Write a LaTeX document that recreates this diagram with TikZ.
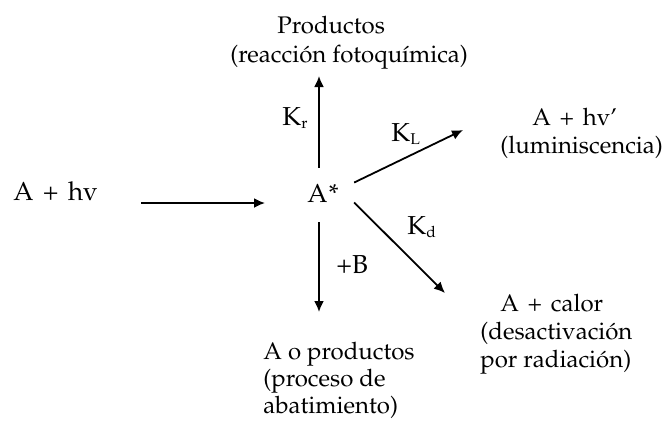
\documentclass[tikz,border=0pt]{standalone}
\usepackage[T1]{fontenc}
\usepackage{mathpazo}
\usetikzlibrary{arrows.meta, positioning, calc}
\newcommand{\pl}{\hspace{0.36em}+\hspace{0.36em}}
\tikzset{
  txt/.style={inner sep=0pt, font=\fontsize{12}{14}\selectfont},
  big/.style={inner sep=0pt, anchor=base west, font=\fontsize{13}{15}\selectfont},
  note/.style={txt, align=left, anchor=base west},
  rate/.style={inner sep=0pt, anchor=base west, font=\fontsize{13}{15}\selectfont},
  arr/.style={line width=0.9pt, -{Latex[length=5.5pt,width=5pt]}}
}

\begin{document}
\begin{tikzpicture}[x=0.5pt, y=-0.5pt]
  \useasboundingbox (0,0) rectangle (665,425);

  \node[big] (hv) at (13,200) {A\pl hv};
  \node[big] (astar) at (307,202) {A\kern0.5pt*};
  \node[txt, anchor=base west] (prod) at (277,33) {Productos};
  \node[txt, anchor=base west] (prodnote) at (230,62) {(reacci\'on fotoqu\'{\i}mica)};
  \node[note] (lum) at (500,153) {\hspace*{16pt}A\pl hv'\\(luminiscencia)};
  \node[note] (calor) at (480,367) {\hspace*{10pt}A\pl calor\\(desactivaci\'on\\por radiaci\'on)};
  \node[note, font=\fontsize{12}{13.5}\selectfont] (quench) at (263,413) {A o productos\\(proceso de\\abatimiento)};

  \coordinate (krtip) at (319,76);
  \coordinate (kltip) at (463,130);
  \coordinate (kdtip) at (445,293);
  \coordinate (btip) at (319,312);

  \draw[arr, shorten <=21.5pt, shorten >=21pt] ([yshift=-1.5pt]hv.base east) -- ([yshift=-0.5pt]astar.base west);
  \draw[arr] ($(astar.north -| krtip)+(0,-16)$) -- (krtip);
  \draw[arr] ($(astar.east)+(15,-10.5)$) -- (kltip);
  \draw[arr] ($(astar.east)+(15,9.5)$) -- (kdtip);
  \draw[arr] ($(astar.south -| btip)+(0,20)$) -- (btip);

  \node[rate] (kr) at (282,125) {K$_{\scriptscriptstyle\mathrm{r}}$};
  \node[rate] (kl) at (391,141) {K$_{\scriptscriptstyle\mathrm{L}}$};
  \node[rate] (kd) at (407,234) {K$_{\scriptscriptstyle\mathrm{d}}$};
  \node[rate] (plusb) at (336,273) {+B};
\end{tikzpicture}
\end{document}
